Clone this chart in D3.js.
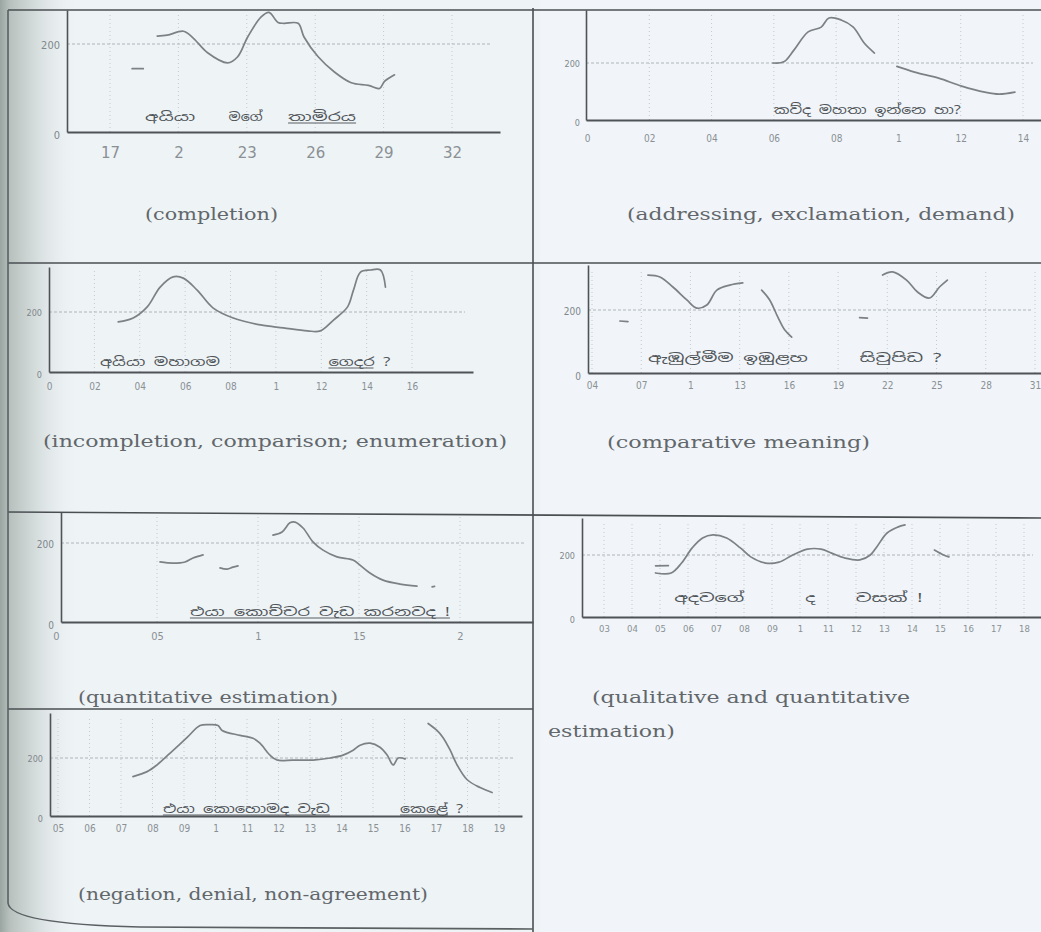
<!DOCTYPE html>
<html><head><meta charset="utf-8">
<script src="https://cdn.jsdelivr.net/npm/d3@7/dist/d3.min.js"></script>
<style>html,body{margin:0;padding:0;background:#eef3f6;} svg{display:block}</style>
</head><body>
<svg id="c" width="1041" height="932"></svg>
<script>
// ---------------- DATA (time in s, pitch in Hz) ----------------
const completionTicks = [1.7, 2.0, 2.3, 2.6, 2.9, 3.2];
const completionTickLabels = ["17", "2", "23", "26", "29", "32"];
const completionSeg1 = [[1.797,144],[1.846,144]];
const completionSeg2 = [[1.907,218],[1.951,220],[2.022,229],[2.066,213],[2.128,180],[2.216,157],[2.260,171],[2.304,216],[2.362,261],[2.397,272],[2.437,249],[2.463,247],[2.525,247],[2.551,216],[2.613,171],[2.683,137],[2.758,112],[2.833,106],[2.882,99],[2.904,115],[2.948,130]];
const completionWords = [{text:"අයියා", t:1.854, w:50}, {text:"මගේ", t:2.220, w:34}, {text:"තාමිරය", t:2.481, w:68, u:68}];

const addressingTicks = [0, 0.2, 0.4, 0.6, 0.8, 1.0, 1.2, 1.4];
const addressingTickLabels = ["0", "02", "04", "06", "08", "1", "12", "14"];
const addressingSeg1 = [[0.597,200],[0.632,204],[0.665,246],[0.710,309],[0.752,326],[0.777,358],[0.816,351],[0.855,326],[0.890,270],[0.923,235]];
const addressingSeg2 = [[0.995,188],[1.052,168],[1.129,147],[1.203,119],[1.277,98],[1.323,91],[1.374,98]];
const addressingWords = [{text:"කව්ද මහතා ඉන්නෙ හා?", t:0.600, w:187}];

const incompletionTicks = [0, 0.2, 0.4, 0.6, 0.8, 1.0, 1.2, 1.4, 1.6];
const incompletionTickLabels = ["0", "02", "04", "06", "08", "1", "12", "14", "16"];
const incompletionSeg1 = [[0.305,167],[0.371,180],[0.433,217],[0.490,283],[0.547,317],[0.592,313],[0.653,273],[0.724,213],[0.812,180],[0.932,157],[1.033,147],[1.139,137],[1.196,137],[1.254,173],[1.316,217],[1.342,273],[1.373,333],[1.417,340],[1.461,340],[1.483,283]];
const incompletionWords = [{text:"අයියා මහාගම", t:0.225, w:120}, {text:"ගෙදර ?", t:1.232, w:62, u:45}];

const comparativeTicks = [0.4, 0.7, 1.0, 1.3, 1.6, 1.9, 2.2, 2.5, 2.8, 3.1];
const comparativeTickLabels = ["04", "07", "1", "13", "16", "19", "22", "25", "28", "31"];
const comparativeSeg1 = [[0.570,165],[0.619,163]];
const comparativeSeg2 = [[0.741,311],[0.814,305],[0.893,273],[0.978,232],[1.039,206],[1.100,216],[1.161,263],[1.240,279],[1.319,286]];
const comparativeSeg3 = [[1.434,263],[1.483,232],[1.532,178],[1.574,137],[1.617,114]];
const comparativeSeg4 = [[2.031,176],[2.079,174]];
const comparativeSeg5 = [[2.171,311],[2.232,321],[2.317,295],[2.384,257],[2.457,238],[2.518,273],[2.566,295]];
const comparativeWords = [{text:"ඇඹුල්මීම ඉඹුළහ", t:0.741, w:160}, {text:"සිවුපිඩ ?", t:2.031, w:82}];

const quantitativeTicks = [0, 0.5, 1.0, 1.5, 2.0];
const quantitativeTickLabels = ["0", "05", "1", "15", "2"];
const quantitativeSeg1 = [[0.515,152],[0.579,149],[0.639,152],[0.678,162],[0.728,170]];
const quantitativeSeg2 = [[0.812,137],[0.847,134],[0.876,139],[0.901,142]];
const quantitativeSeg3 = [[1.074,220],[1.119,228],[1.158,251],[1.183,253],[1.223,238],[1.272,203],[1.322,182],[1.391,165],[1.470,157],[1.505,144],[1.554,124],[1.619,106],[1.703,96],[1.787,91]];
const quantitativeSeg4 = [[1.862,89],[1.874,90]];
const quantitativeWords = [{text:"එයා කොච්චර වැඩ කරනවද !", t:0.663, w:260, u:260}];

const qualitativeTicks = [0.3, 0.4, 0.5, 0.6, 0.7, 0.8, 0.9, 1.0, 1.1, 1.2, 1.3, 1.4, 1.5, 1.6, 1.7, 1.8];
const qualitativeTickLabels = ["03", "04", "05", "06", "07", "08", "09", "1", "11", "12", "13", "14", "15", "16", "17", "18"];
const qualitativeSeg0 = [[0.484,165],[0.530,166]];
const qualitativeSeg1 = [[0.484,142],[0.540,142],[0.577,174],[0.615,223],[0.652,255],[0.689,265],[0.738,255],[0.787,223],[0.824,194],[0.877,174],[0.925,177],[0.974,200],[1.027,219],[1.075,219],[1.113,206],[1.161,190],[1.214,184],[1.251,200],[1.274,226],[1.311,271],[1.349,290],[1.375,297]];
const qualitativeSeg2 = [[1.480,216],[1.513,200],[1.532,194]];
const qualitativeWords = [{text:"අදවගේ", t:0.551, w:70}, {text:"ද", t:1.019, w:10}, {text:"වසක් !", t:1.199, w:67}];

const negationTicks = [0.5, 0.6, 0.7, 0.8, 0.9, 1.0, 1.1, 1.2, 1.3, 1.4, 1.5, 1.6, 1.7, 1.8, 1.9];
const negationTickLabels = ["05", "06", "07", "08", "09", "1", "11", "12", "13", "14", "15", "16", "17", "18", "19"];
const negationSeg1 = [[0.738,136],[0.783,153],[0.814,176],[0.856,217],[0.910,271],[0.951,312],[0.983,315],[1.008,312],[1.021,295],[1.078,278],[1.119,268],[1.141,251],[1.173,210],[1.195,193],[1.246,193],[1.310,193],[1.364,200],[1.405,210],[1.437,227],[1.459,244],[1.491,251],[1.522,237],[1.545,210],[1.564,176],[1.580,200],[1.602,197]];
const negationSeg2 = [[1.675,319],[1.703,295],[1.722,271],[1.745,227],[1.767,176],[1.799,125],[1.840,98],[1.878,81]];
const negationWords = [{text:"එයා කොහොමද වැඩ", t:0.833, w:167, u:167}, {text:"කෙළේ ?", t:1.586, w:63, u:48}];

const pitchTicks = [0, 200];
const pitchTickLabels = ["0", "200"];

// ---------------- LAYOUT ----------------
const panels = [
 {segs:[completionSeg1, completionSeg2], ticks:completionTicks, labels:completionTickLabels, words:completionWords,
  caption:["(completion)"],
  L:{xa:[1.7,110], xb:[3.2,452], x0:67, x1:500, y0:132, y200:44, yTop:10, tickY:153, tickFs:15, yLabX:60, yFs:11, wordY:121, cap:[[145,278,220]]}},
 {segs:[addressingSeg1, addressingSeg2], ticks:addressingTicks, labels:addressingTickLabels, words:addressingWords,
  caption:["(addressing, exclamation, demand)"],
  L:{xa:[0,587], xb:[1.4,1023], x0:586, x1:1041, y0:120, y200:63, yTop:10, tickY:139, tickFs:10, yLabX:580, yFs:9, wordY:114, cap:[[627,1015,220]]}},
 {segs:[incompletionSeg1], ticks:incompletionTicks, labels:incompletionTickLabels, words:incompletionWords,
  caption:["(incompletion, comparison; enumeration)"],
  L:{xa:[0,49], xb:[1.6,412], x0:49, x1:473, y0:372, y200:312, yTop:267, tickY:387, tickFs:10, yLabX:42, yFs:9, wordY:366, cap:[[43,507,447]]}},
 {segs:[comparativeSeg1, comparativeSeg2, comparativeSeg3, comparativeSeg4, comparativeSeg5], ticks:comparativeTicks, labels:comparativeTickLabels, words:comparativeWords,
  caption:["(comparative meaning)"],
  L:{xa:[0.4,592], xb:[3.1,1035], x0:588, x1:1041, y0:373, y200:310, yTop:265, tickY:386, tickFs:10, yLabX:581, yFs:10, wordY:362, cap:[[607,870,448]]}},
 {segs:[quantitativeSeg1, quantitativeSeg2, quantitativeSeg3, quantitativeSeg4], ticks:quantitativeTicks, labels:quantitativeTickLabels, words:quantitativeWords,
  caption:["(quantitative estimation)"],
  L:{xa:[1,258], xb:[2,460], x0:61, x1:533, y0:622, y200:543, yTop:512, tickY:637, tickFs:11, yLabX:54, yFs:10, wordY:616, cap:[[78,338,703]]}},
 {segs:[qualitativeSeg0, qualitativeSeg1, qualitativeSeg2], ticks:qualitativeTicks, labels:qualitativeTickLabels, words:qualitativeWords,
  caption:["(qualitative and quantitative", "estimation)"],
  L:{xa:[0.3,604], xb:[1.7,996], x0:582, x1:1041, y0:617, y200:555, yTop:518, tickY:629, tickFs:9.5, yLabX:575, yFs:9, wordY:602, cap:[[592,910,703],[548,675,737]]}},
 {segs:[negationSeg1, negationSeg2], ticks:negationTicks, labels:negationTickLabels, words:negationWords,
  caption:["(negation, denial, non-agreement)"],
  L:{xa:[0.5,58], xb:[1.9,499], x0:50, x1:522, y0:816, y200:758, yTop:713, tickY:829, tickFs:10, yLabX:43, yFs:9, wordY:813, cap:[[78,428,900]]}}
];

// ---------------- DRAW ----------------
const svg = d3.select("#c");
const defs = svg.append("defs");
const lg = defs.append("linearGradient").attr("id","shade").attr("x1","0").attr("x2","1").attr("y1","0").attr("y2","0");
lg.append("stop").attr("offset","0").attr("stop-color","#9aa5a1").attr("stop-opacity",1);
lg.append("stop").attr("offset","0.12").attr("stop-color","#b7c0bd").attr("stop-opacity",1);
lg.append("stop").attr("offset","0.45").attr("stop-color","#cfd7d6").attr("stop-opacity",0.8);
lg.append("stop").attr("offset","1").attr("stop-color","#eef3f6").attr("stop-opacity",0);

svg.append("rect").attr("width",1041).attr("height",932).attr("fill","#eef3f6");
svg.append("rect").attr("x",540).attr("width",501).attr("height",932).attr("fill","#f1f5f9");
svg.append("rect").attr("width",80).attr("height",932).attr("fill","url(#shade)");

// table lines
const tbl = svg.append("g").attr("fill","none").attr("stroke","#4a4f52").attr("stroke-width",1.6);
tbl.append("path").attr("d","M8,10 H1041");
tbl.append("path").attr("d","M8,263 H1041");
tbl.append("path").attr("d","M8,512 L1041,518");
tbl.append("path").attr("d","M8,709 H533");
tbl.append("path").attr("d","M533,8 V932");
tbl.append("path").attr("d","M8,10 V903 Q10,924 140,927 L533,929").attr("stroke","#5a6062");

const lineGen = (x, y) => d3.line().x(d => x(d[0])).y(d => y(d[1])).curve(d3.curveCatmullRom.alpha(0.5));

panels.forEach(p => {
  const L = p.L;
  const x = d3.scaleLinear().domain([L.xa[0], L.xb[0]]).range([L.xa[1], L.xb[1]]);
  x.domain([x.invert(L.x0), x.invert(L.x1)]).range([L.x0, L.x1]);
  const y = d3.scaleLinear().domain([0, 200]).range([L.y0, L.y200]);
  y.domain([0, y.invert(L.yTop)]).range([L.y0, L.yTop]);
  const g = svg.append("g");

  // grid
  g.append("g").selectAll("line").data(p.ticks.filter(t => x(t) > L.x0 + 3)).join("line")
    .attr("x1", d => x(d)).attr("x2", d => x(d)).attr("y1", L.y0).attr("y2", L.yTop + 4)
    .attr("stroke", "#c3c9cd").attr("stroke-width", 1).attr("stroke-dasharray", "1,3");
  g.append("line").attr("x1", L.x0).attr("x2", L.x1 - 8).attr("y1", y(200)).attr("y2", y(200))
    .attr("stroke", "#aeb4b8").attr("stroke-width", 1).attr("stroke-dasharray", "3,2");

  // x axis
  const xa = g.append("g").attr("transform", `translate(0,${L.y0})`)
    .call(d3.axisBottom(x).tickValues(p.ticks).tickFormat((d, i) => p.labels[i]).tickSize(0).tickSizeOuter(0)
      .tickPadding(L.tickY - L.y0 - L.tickFs * 0.4));
  xa.select(".domain").attr("stroke", "#4e5356").attr("stroke-width", 1.8);
  xa.selectAll("text").attr("fill", "#8a9094").attr("font-size", L.tickFs)
    .attr("font-family", L.tickFs > 12 ? "DejaVu Sans, sans-serif" : "DejaVu Sans Condensed, Liberation Sans Narrow, sans-serif");

  // y axis
  const ya = g.append("g").attr("transform", `translate(${L.x0},0)`)
    .call(d3.axisLeft(y).tickValues(pitchTicks).tickFormat((d, i) => pitchTickLabels[i]).tickSize(0).tickSizeOuter(0)
      .tickPadding(L.x0 - L.yLabX));
  ya.select(".domain").attr("stroke", "#4e5356").attr("stroke-width", 1.6);
  ya.selectAll("text").attr("fill", "#80878b").attr("font-size", L.yFs)
    .attr("font-family", "DejaVu Sans Condensed, Liberation Sans Narrow, sans-serif")
    .attr("dy", (d) => d === 0 ? "0.6em" : "0.4em");

  // pitch contour
  g.append("g").selectAll("path").data(p.segs).join("path")
    .attr("d", d => lineGen(x, y)(d)).attr("fill", "none")
    .attr("stroke", "#7b8184").attr("stroke-width", 1.7).attr("stroke-linecap", "round");

  // Sinhala words
  p.words.forEach(w => {
    g.append("text").attr("x", x(w.t)).attr("y", L.wordY).text(w.text)
      .attr("font-family", "Noto Sans Sinhala, sans-serif").attr("font-size", 12).attr("fill", "#4f5458")
      .attr("textLength", w.w).attr("lengthAdjust", "spacingAndGlyphs");
    if (w.u) g.append("line").attr("x1", x(w.t)).attr("x2", x(w.t) + w.u).attr("y1", L.wordY + 2).attr("y2", L.wordY + 2)
      .attr("stroke", "#5a5f62").attr("stroke-width", 1);
  });

  // captions
  p.caption.forEach((c, i) => {
    const cp = L.cap[i];
    g.append("text").attr("x", cp[0]).attr("y", cp[2]).text(c)
      .attr("font-family", "DejaVu Serif, serif").attr("font-size", 17).attr("fill", "#62676b")
      .attr("textLength", cp[1] - cp[0]).attr("lengthAdjust", "spacingAndGlyphs");
  });
});
</script></body></html>
